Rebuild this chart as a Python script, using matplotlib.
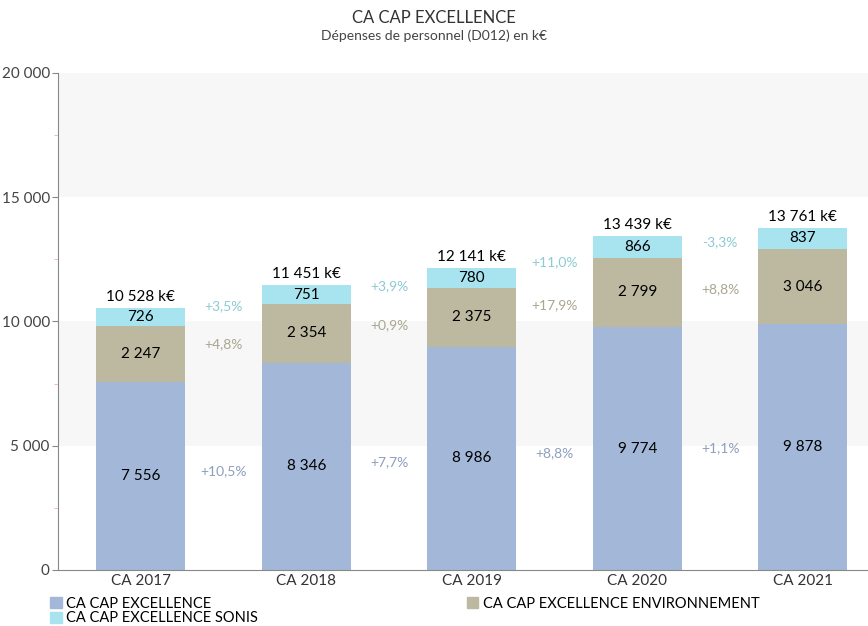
import matplotlib.pyplot as plt
from matplotlib.patches import Patch

plt.rcParams['font.family'] = ['Lato', 'DejaVu Sans']

# données
categories = ["CA 2017", "CA 2018", "CA 2019", "CA 2020", "CA 2021"]
excellence = [7556, 8346, 8986, 9774, 9878]
environnement = [2247, 2354, 2375, 2799, 3046]
sonis = [726, 751, 780, 866, 837]
totaux = [10528, 11451, 12141, 13439, 13761]
evo_excellence = ["+10,5%", "+7,7%", "+8,8%", "+1,1%"]
evo_environnement = ["+4,8%", "+0,9%", "+17,9%", "+8,8%"]
evo_sonis = ["+3,5%", "+3,9%", "+11,0%", "-3,3%"]

c_exc = "#a3b8d8"
c_env = "#bcb9a0"
c_son = "#a8e4f0"


def fmt(v):
    return f"{v:,.0f}".replace(",", " ")


fig = plt.figure(figsize=(8.68, 6.26), dpi=100)
ax = fig.add_axes([0.067, 0.0895, 0.94, 0.794])

# bandes de fond
ax.axhspan(5000, 10000, color="#f7f7f7", zorder=0, lw=0)
ax.axhspan(15000, 20000, color="#f7f7f7", zorder=0, lw=0)

x = list(range(len(categories)))
w = 0.537
bottom2 = [a + b for a, b in zip(excellence, environnement)]
ax.bar(x, excellence, w, color=c_exc, zorder=2)
ax.bar(x, environnement, w, bottom=excellence, color=c_env, zorder=2)
ax.bar(x, sonis, w, bottom=bottom2, color=c_son, zorder=2)

for i in x:
    ax.text(i, excellence[i] / 2, fmt(excellence[i]), ha="center", va="center", fontsize=11, color="black")
    ax.text(i, excellence[i] + environnement[i] / 2, fmt(environnement[i]), ha="center", va="center", fontsize=11, color="black")
    ax.text(i, bottom2[i] + sonis[i] / 2, fmt(sonis[i]), ha="center", va="center", fontsize=11, color="black")
    ax.text(i, bottom2[i] + sonis[i] + 180, fmt(totaux[i]) + " k€", ha="center", va="bottom", fontsize=11, color="black")

# évolutions entre les barres
for i in range(len(categories) - 1):
    xm = i + 0.5
    y1 = (excellence[i] / 2 + excellence[i + 1] / 2) / 2
    y2 = (excellence[i] + environnement[i] / 2 + excellence[i + 1] + environnement[i + 1] / 2) / 2
    y3 = (bottom2[i] + sonis[i] / 2 + bottom2[i + 1] + sonis[i + 1] / 2) / 2
    ax.text(xm, y1, evo_excellence[i], ha="center", va="center", fontsize=10, color="#8d9fbd")
    ax.text(xm, y2, evo_environnement[i], ha="center", va="center", fontsize=10, color="#a9a690")
    ax.text(xm, y3, evo_sonis[i], ha="center", va="center", fontsize=10, color="#8ccad6")

ax.set_xlim(-0.5, 4.43)
ax.set_ylim(0, 20000)
ax.set_yticks([0, 5000, 10000, 15000, 20000])
ax.set_yticklabels([fmt(v) for v in [0, 5000, 10000, 15000, 20000]], fontsize=11, color="#444444")
ax.set_yticks([2500, 7500, 12500, 17500], minor=True)
ax.tick_params(axis="y", which="minor", length=3, color="#e8b0b0")
ax.set_xticks(x)
ax.set_xticklabels(categories, fontsize=11, color="#333333")
ax.tick_params(axis="y", which="major", length=4, color="#888888", pad=2)
ax.tick_params(axis="x", length=0, pad=3)
for s in ["top", "right"]:
    ax.spines[s].set_visible(False)
ax.spines["left"].set_color("#888888")
ax.spines["bottom"].set_color("#888888")

fig.text(0.5, 0.972, "CA CAP EXCELLENCE", ha="center", va="center", fontsize=12, color="#333333")
fig.text(0.5, 0.943, "Dépenses de personnel (D012) en k€", ha="center", va="center", fontsize=10, color="#444444")

handles = [Patch(color=c_exc, label="CA CAP EXCELLENCE"),
           Patch(color=c_son, label="CA CAP EXCELLENCE SONIS"),
           Patch(color=c_env, label="CA CAP EXCELLENCE ENVIRONNEMENT")]
fig.legend(handles=handles, ncol=2, loc="upper left", bbox_to_anchor=(0.058, 0.047),
           frameon=False, fontsize=10.5, handlelength=0.8, handleheight=0.8, handletextpad=0.3,
           columnspacing=14.3, labelspacing=0.05, borderpad=0, borderaxespad=0)

plt.savefig("out.png", dpi=100)
